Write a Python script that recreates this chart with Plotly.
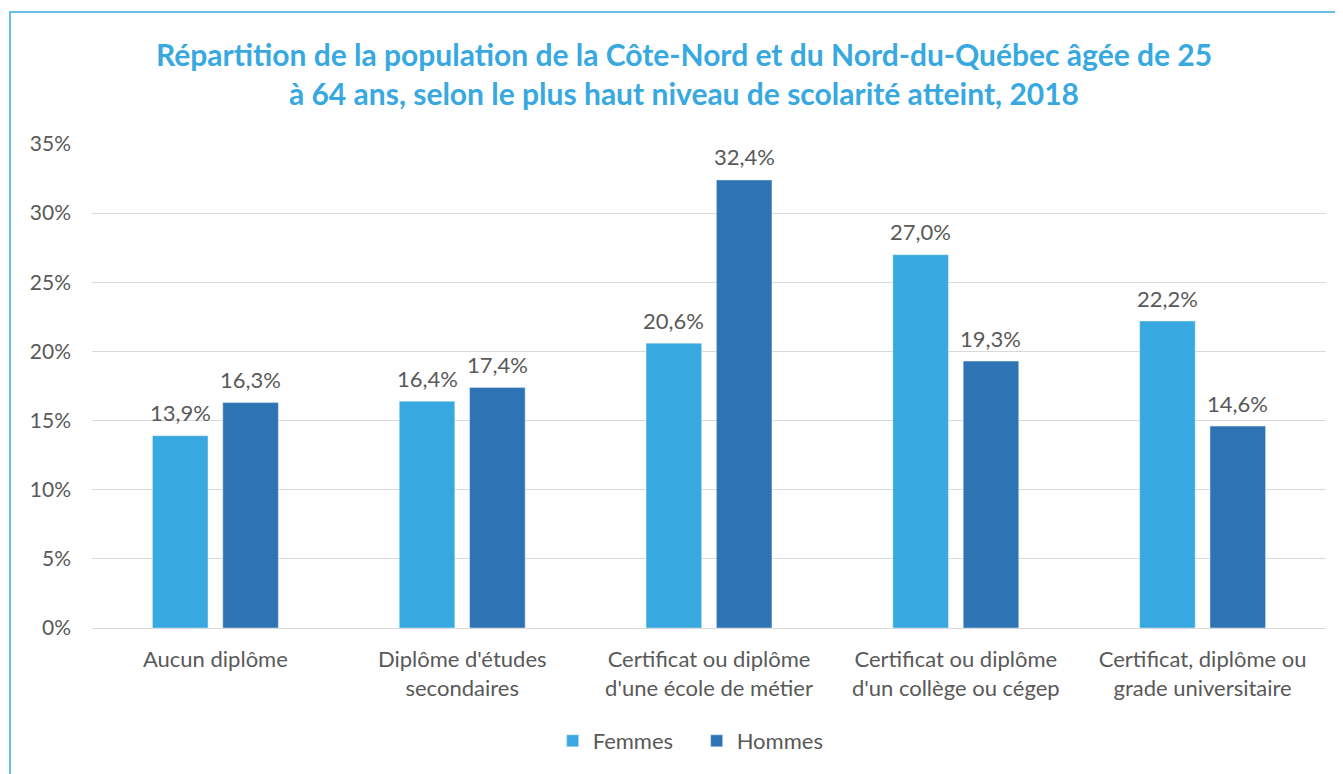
import plotly.graph_objects as go

categories = ["Aucun diplôme", "Diplôme d'études<br>secondaires", "Certificat ou diplôme<br>d'une école de métier",
              "Certificat ou diplôme<br>d'un collège ou cégep", "Certificat, diplôme ou<br>grade universitaire"]
femmes = [13.9, 16.4, 20.6, 27.0, 22.2]
hommes = [16.3, 17.4, 32.4, 19.3, 14.6]
series_names = ["Femmes", "Hommes"]
colors = ["#38A9E0", "#2E74B5"]
title = "Répartition de la population de la Côte-Nord et du Nord-du-Québec âgée de 25<br>à 64 ans, selon le plus haut niveau de scolarité atteint, 2018"

FONT = "Lato"
GRAY = "#595959"

W, H = 1335, 766
L, T, PW, PH = 84, 136, 1234, 484
BARGAP, GROUPGAP = 0.43, 0.21

def fmt(v):
    return f"{v:.1f}".replace(".", ",") + "%"

fig = go.Figure()
for name, vals, c in zip(series_names, [femmes, hommes], colors):
    fig.add_trace(go.Bar(x=categories, y=vals, name=name, marker_color=c))

# value labels above bars
cat_w = PW / len(categories)
slot = cat_w * (1 - BARGAP) / 2
annotations = []
for k, vals in enumerate([femmes, hommes]):
    off = (k - 0.5) * slot
    for cat, v in zip(categories, vals):
        annotations.append(dict(x=cat, y=v, xref="x", yref="y", text=fmt(v), showarrow=False,
                                xshift=off, yshift=23, yanchor="middle",
                                font=dict(family=FONT, size=22, color=GRAY)))

fig.update_layout(
    width=W, height=H,
    paper_bgcolor="white", plot_bgcolor="white",
    margin=dict(l=L, r=W - L - PW, t=T, b=H - T - PH, autoexpand=False),
    title=dict(text=title, x=676 / W, xanchor="center", xref="container", y=1 - 57.5 / H, yanchor="middle",
               font=dict(family=FONT, size=30, color="#38A9E0", weight="bold")),
    barmode="group", bargap=BARGAP, bargroupgap=GROUPGAP,
    font=dict(family=FONT, size=22, color=GRAY),
    legend=dict(orientation="h", x=0.49, xanchor="center", y=(T + PH - 733) / PH, yanchor="middle",
                entrywidth=99, font=dict(family=FONT, size=22, color=GRAY)),
    yaxis=dict(range=[0, 35], dtick=5, ticksuffix="%", showgrid=True, gridcolor="#D9D9D9",
               gridwidth=1, zeroline=False, showline=False, ticks="", ticklen=0, ticklabelstandoff=20,
               tickfont=dict(family=FONT, size=21, color=GRAY)),
    xaxis=dict(showline=True, linecolor="#D9D9D9", linewidth=1, ticks="", ticklabelstandoff=12,
               tickfont=dict(family=FONT, size=22, color=GRAY)),
    annotations=annotations,
    shapes=[dict(type="rect", xref="paper", yref="paper",
                 x0=(2 - L) / PW, x1=(1340 - L) / PW,
                 y0=(T + PH - 770) / PH, y1=(T + PH - 4) / PH,
                 line=dict(color="#38A9E0", width=1.5), fillcolor="rgba(0,0,0,0)", layer="below")],
)

fig.write_html("out.html")
